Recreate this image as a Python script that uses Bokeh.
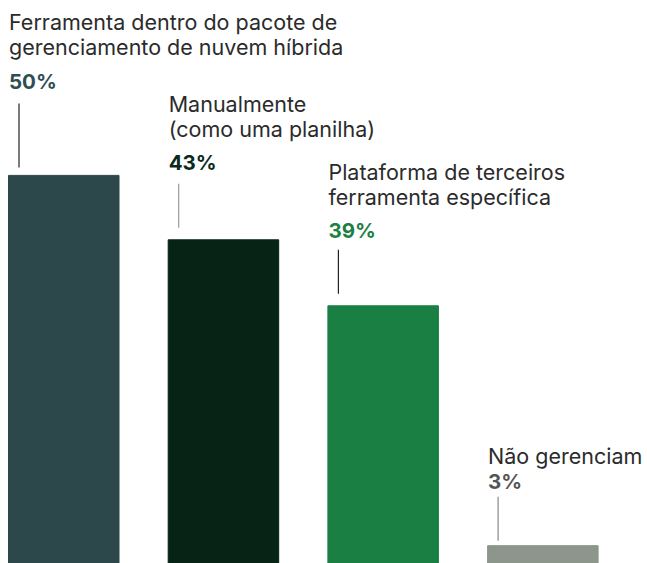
from bokeh.plotting import figure
from bokeh.models import Range1d, ColumnDataSource
from bokeh.core.properties import value
from bokeh.embed import file_html
from bokeh.resources import INLINE

# ---- data ----
categories = ["Ferramenta dentro do pacote de\ngerenciamento de nuvem híbrida",
              "Manualmente\n(como uma planilha)",
              "Plataforma de terceiros\nferramenta específica",
              "Não gerenciam"]
pct_labels = ["50%", "43%", "39%", "3%"]
bar_heights = [50.0, 41.7, 33.2, 2.3]   # bar heights as drawn in the picture
bar_colors = ["#2c484b", "#072316", "#1a7f43", "#8c968a"]
pct_colors = ["#2e4f52", "#0b2a1c", "#1a8043", "#555555"]
leader_colors = ["#222222", "#999999", "#222222", "#888888"]

# ---- layout (pixels) ----
W, H = 647, 563
PX = 555 / 71.5                    # pixels per data unit
TXT_SHIFT = 7
pct_above = [87, 70, 68, 57]       # pct baseline above bar top
gap_to_pct = [34, 34, 34, 26]      # last label line baseline above pct baseline
line_h = 25
leader_top = [72, 56, 56, 49]
leader_bot = [8, 12, 12, 5]
STEP = 159.7
bar_w = 110.5 / STEP
x0 = -bar_w / 2 - 8 / STEP

p = figure(width=W, height=H, output_backend="svg", toolbar_location=None,
           x_range=Range1d(x0, x0 + W / STEP), y_range=Range1d(0, H / PX),
           min_border=0, outline_line_color=None)
p.axis.visible = False
p.grid.visible = False
p.background_fill_color = "white"
p.border_fill_color = "white"

xs = list(range(len(categories)))
src = ColumnDataSource(dict(x=xs, top=bar_heights, color=bar_colors))
p.vbar(x="x", top="top", bottom=0, width=bar_w, color="color", source=src)

lx, ly, lt = [], [], []
px_, py_, pt_, pc_ = [], [], [], []
sx, sy0, sy1 = [], [], []
for i, (cat, h) in enumerate(zip(categories, bar_heights)):
    left = i - bar_w / 2 + 0.5 / STEP
    lines = cat.split("\n")
    base_last = pct_above[i] + gap_to_pct[i] + TXT_SHIFT
    for k, ln in enumerate(lines):
        lx.append(left)
        ly.append(h + (base_last + (len(lines) - 1 - k) * line_h) / PX)
        lt.append(ln)
    px_.append(left)
    py_.append(h + (pct_above[i] + TXT_SHIFT) / PX)
    pt_.append(pct_labels[i])
    pc_.append(pct_colors[i])
    sx.append(i - bar_w / 2 + 10.5 / STEP)
    sy0.append(h + leader_top[i] / PX)
    sy1.append(h + leader_bot[i] / PX)

p.text(x=lx, y=ly, text=lt, text_font=value("Inter"), text_font_size="21.5px",
       text_color="#2b2b2b", text_baseline="alphabetic", text_align="left")
p.text(x=px_, y=py_, text=pt_, text_font=value("Inter"), text_font_size="20.5px",
       text_font_style="bold", text_color=pc_, text_baseline="alphabetic",
       text_align="left")
p.segment(x0=sx, y0=sy0, x1=sx, y1=sy1, line_color=leader_colors, line_width=1.2)

open("out.html", "w").write(file_html(p, INLINE))
